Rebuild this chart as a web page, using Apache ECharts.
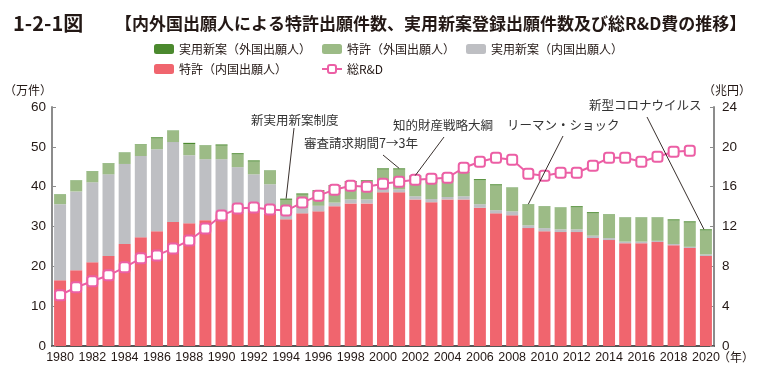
<!DOCTYPE html>
<html><head><meta charset="utf-8">
<script src="https://cdn.jsdelivr.net/npm/echarts@6/dist/echarts.min.js"></script>
<style>html,body{margin:0;padding:0;background:#fff}#c{width:769px;height:370px}</style>
</head><body><div id="c"></div>
<script>
const years = ['1980','1981','1982','1983','1984','1985','1986','1987','1988','1989',
  '1990','1991','1992','1993','1994','1995','1996','1997','1998','1999',
  '2000','2001','2002','2003','2004','2005','2006','2007','2008','2009',
  '2010','2011','2012','2013','2014','2015','2016','2017','2018','2019','2020'];
// 万件
const patentDomestic = [16.5,19.0,21.0,22.6,25.6,27.3,28.8,31.1,30.8,31.6,
  33.1,33.7,34.1,33.2,31.8,33.3,33.8,35.1,35.8,35.8,
  38.6,38.6,36.8,36.1,36.8,36.8,34.7,33.3,32.8,29.6,
  28.8,28.6,28.6,27.1,26.6,25.8,25.8,26.1,25.3,24.6,22.6];
const utilityDomestic = [19.1,19.8,20.1,20.5,20.1,20.4,20.6,20.1,17.1,15.3,
  13.8,11.2,9.0,7.4,1.5,1.3,1.4,0.9,1.0,1.0,
  0.9,0.7,0.8,0.8,0.6,0.8,0.9,0.8,1.0,0.7,
  0.8,0.7,0.7,0.6,0.5,0.4,0.4,0.3,0.3,0.3,0.4];
const patentForeign = [2.4,2.7,2.7,2.7,2.8,2.9,2.7,2.8,2.8,3.4,
  3.4,3.2,3.2,3.4,3.4,3.4,3.6,4.1,4.3,4.5,
  4.8,5.0,4.9,4.9,5.6,6.0,6.0,6.2,5.9,5.2,
  5.4,5.4,5.5,5.6,5.9,6.0,6.0,5.8,5.9,6.1,6.0];
const utilityForeign = [0.1,0.1,0.1,0.1,0.1,0.1,0.3,0.1,0.3,0.1,
  0.3,0.3,0.3,0.1,0.3,0.3,0.3,0.3,0.3,0.3,
  0.3,0.3,0.3,0.1,0.1,0.1,0.3,0.3,0.1,0.1,
  0.1,0.1,0.3,0.3,0.1,0.1,0.1,0.1,0.3,0.3,0.3];
// 兆円
const rdTotal = [5.1,5.9,6.5,7.1,7.9,8.8,9.1,9.8,10.6,11.8,
  13.1,13.8,13.9,13.7,13.6,14.4,15.1,15.7,16.1,16.0,
  16.3,16.5,16.7,16.8,16.9,17.9,18.5,18.9,18.7,17.3,
  17.1,17.4,17.4,18.1,18.9,18.9,18.5,19.0,19.5,19.6,null];

const names = ['特許（内国出願人）','実用新案（内国出願人）','特許（外国出願人）','実用新案（外国出願人）','総R&D'];
const annotations = [
  {text:'新実用新案制度', year:'1994'},
  {text:'審査請求期間7→3年', year:'2001'},
  {text:'知的財産戦略大綱', year:'2002'},
  {text:'リーマン・ショック', year:'2009'},
  {text:'新型コロナウイルス', year:'2020'}
];

const C = {red:'#F0656E', gray:'#BEBFC3', lgreen:'#9CBB86', dgreen:'#4B892E', pink:'#EC5FA5', text:'#231815'};
const cjk = "'Noto Sans CJK JP','Noto Sans',sans-serif";
const num = "'Liberation Sans','Arial',sans-serif";

const chart = echarts.init(document.getElementById('c'), null, {renderer:'canvas'});
const barBase = {type:'bar', stack:'a', barWidth:12, xAxisIndex:0, yAxisIndex:0};
const option = {
  animation:false,
  backgroundColor:'#fff',
  title:[
    {text:'1-2-1図', left:8, top:8, textStyle:{fontFamily:cjk, fontSize:20, fontWeight:'bold', color:C.text}},
    {text:'【内外国出願人による特許出願件数、実用新案登録出願件数及び総R&D費の推移】', left:110, top:10,
     textStyle:{fontFamily:cjk, fontSize:17, fontWeight:'bold', color:C.text}}
  ],
  legend:[
    {data:[names[3],names[2],names[1]], left:149, top:38, itemWidth:20, itemHeight:10, itemGap:11,
     textStyle:{fontFamily:cjk, fontSize:12, color:C.text}},
    {data:[names[0],names[4]], left:149, top:58, itemWidth:20, itemHeight:10, itemGap:34,
     textStyle:{fontFamily:cjk, fontSize:12, color:C.text}}
  ],
  grid:{left:52, right:55, top:107, bottom:24, containLabel:false},
  xAxis:{type:'category', data:years, boundaryGap:true,
    axisLine:{lineStyle:{color:'#555', width:2}},
    axisTick:{inside:true, length:4, lineStyle:{color:'#555'}},
    axisLabel:{interval:1, fontFamily:num, fontSize:12.5, color:C.text, margin:5}},
  yAxis:[
    {type:'value', min:0, max:60, interval:10, position:'left',
     axisLine:{show:true, lineStyle:{color:'#8c8c8c', width:2}},
     axisTick:{show:true, inside:true, length:4, lineStyle:{color:'#8c8c8c'}},
     splitLine:{show:false},
     axisLabel:{fontFamily:num, fontSize:13.5, color:C.text, margin:6}},
    {type:'value', min:0, max:24, interval:4, position:'right',
     axisLine:{show:true, lineStyle:{color:'#8c8c8c', width:2}},
     axisTick:{show:true, inside:true, length:4, lineStyle:{color:'#8c8c8c'}},
     splitLine:{show:false},
     axisLabel:{fontFamily:num, fontSize:13.5, color:C.text, margin:8}}
  ],
  series:[
    Object.assign({}, barBase, {name:names[0], data:patentDomestic, itemStyle:{color:C.red}}),
    Object.assign({}, barBase, {name:names[1], data:utilityDomestic, itemStyle:{color:C.gray}}),
    Object.assign({}, barBase, {name:names[2], data:patentForeign, itemStyle:{color:C.lgreen}}),
    Object.assign({}, barBase, {name:names[3], data:utilityForeign, itemStyle:{color:C.dgreen}}),
    {type:'line', name:names[4], data:rdTotal, xAxisIndex:0, yAxisIndex:1, z:5,
     symbol:'roundRect', symbolSize:10,
     lineStyle:{color:C.pink, width:2},
     itemStyle:{color:'#fff', borderColor:C.pink, borderWidth:2}}
  ]
};
chart.setOption(option);

// annotations: text positions (layout) and leader lines ending at bar tops
const annLayout = [
  {x:251, y:120, align:'left',  from:[294,128]},
  {x:418, y:143, align:'right', from:[383,155]},
  {x:393, y:125, align:'left',  from:[444,137]},
  {x:507, y:125, align:'left',  from:[563,136]},
  {x:589, y:105, align:'left',  from:[647,117]}
];
const graphics = [];
annotations.forEach((a, i) => {
  const L = annLayout[i];
  const idx = years.indexOf(a.year);
  const total = patentDomestic[idx] + utilityDomestic[idx] + patentForeign[idx] + utilityForeign[idx];
  const p = chart.convertToPixel({xAxisIndex:0, yAxisIndex:0}, [idx, total]);
  const endX = i === 4 ? p[0] - 2 : p[0];
  graphics.push({type:'text', x:L.x, y:L.y, z:10,
    style:{text:a.text, fontFamily:cjk, fontSize:12.5, fill:'#333', textAlign:L.align, textVerticalAlign:'middle'}});
  graphics.push({type:'line', z:10, shape:{x1:L.from[0], y1:L.from[1], x2:endX, y2:p[1]},
    style:{stroke:'#231815', lineWidth:0.9}});
});
graphics.push({type:'text', x:28, y:90, style:{text:'（万件）', fontFamily:cjk, fontSize:12, fill:C.text, textAlign:'center', textVerticalAlign:'middle'}});
graphics.push({type:'text', x:727, y:90, style:{text:'（兆円）', fontFamily:cjk, fontSize:12, fill:C.text, textAlign:'center', textVerticalAlign:'middle'}});
graphics.push({type:'text', x:718, y:357, style:{text:'（年）', fontFamily:cjk, fontSize:12, fill:C.text, textAlign:'left', textVerticalAlign:'middle'}});
chart.setOption({graphic:graphics});
</script>
</body></html>
